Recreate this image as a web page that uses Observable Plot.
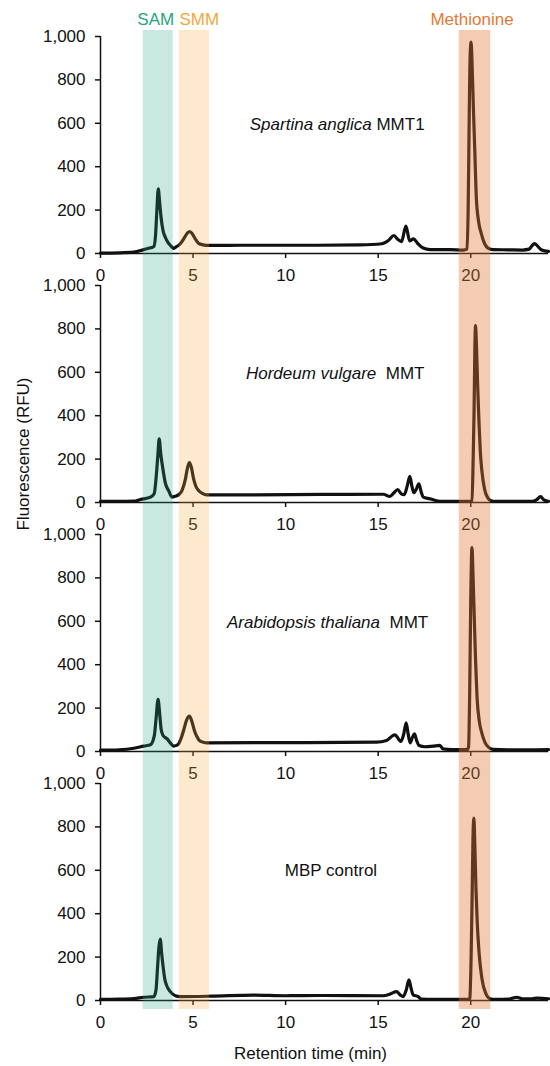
<!DOCTYPE html>
<html>
<head>
<meta charset="utf-8">
<script src="https://cdn.jsdelivr.net/npm/d3@7"></script>
<script src="https://cdn.jsdelivr.net/npm/@observablehq/plot@0.6"></script>
<style>
  html, body { margin: 0; padding: 0; background: #fff; }
</style>
</head>
<body>
<div id="chart"></div>
<script>
// ---------------- DATA ----------------
const panels = ["Spartina anglica MMT1", "Hordeum vulgare MMT", "Arabidopsis thaliana MMT", "MBP control"];
const titleItalic = ["Spartina anglica", "Hordeum vulgare", "Arabidopsis thaliana", ""];
const titleRoman = ["\u00a0MMT1", "\u00a0\u00a0MMT", "\u00a0\u00a0MMT", "MBP control"];

const xTicks = [0, 5, 10, 15, 20];
const yTicks = [0, 200, 400, 600, 800, 1000];

const bandNames = ["SAM", "SMM", "Methionine"];
const bandStart = [2.31, 4.25, 19.38];
const bandEnd = [3.93, 5.89, 21.08];

// [retention time (min), fluorescence (RFU)]
const traceSpartina = [
  [0, 2], [1.0, 3], [1.8, 6], [2.34, 18], [2.7, 26], [2.88, 32], [2.97, 80], [3.04, 190], [3.12, 298],
  [3.2, 230], [3.28, 160], [3.38, 105], [3.5, 75], [3.65, 50], [3.8, 35], [3.93, 24], [4.08, 30],
  [4.31, 45], [4.55, 75], [4.7, 95], [4.82, 101], [4.95, 92], [5.1, 70], [5.3, 47], [5.55, 40], [5.8, 37],
  [8.0, 38], [11.0, 38], [14.0, 40], [15.2, 45], [15.55, 60], [15.85, 83], [16.06, 65], [16.26, 55],
  [16.5, 126], [16.7, 58], [16.9, 67], [17.15, 45], [17.43, 25], [17.8, 18], [18.9, 18], [19.6, 16],
  [19.8, 20], [19.86, 200], [19.92, 650], [19.97, 920], [20.02, 974], [20.08, 850], [20.15, 650],
  [20.22, 470], [20.3, 260], [20.42, 150], [20.57, 92], [20.75, 45], [20.95, 24], [21.2, 18],
  [22.0, 17], [22.8, 16], [23.15, 20], [23.3, 35], [23.45, 46], [23.6, 35], [23.8, 18], [24.0, 12], [24.2, 10]
];
const traceHordeum = [
  [0, 5], [1.0, 5], [1.8, 6], [2.16, 14], [2.7, 25], [2.9, 40], [3.0, 110], [3.1, 220], [3.17, 293],
  [3.26, 220], [3.38, 150], [3.5, 90], [3.68, 55], [3.86, 25], [4.04, 29], [4.25, 38], [4.4, 55],
  [4.58, 105], [4.7, 160], [4.8, 184], [4.9, 165], [5.03, 109], [5.15, 75], [5.3, 55], [5.5, 42],
  [5.75, 35], [8.0, 35], [12.0, 37], [15.27, 38], [15.63, 28], [15.85, 45], [16.05, 60], [16.25, 40],
  [16.41, 36], [16.58, 80], [16.71, 120], [16.82, 75], [16.93, 45], [17.05, 60], [17.2, 86], [17.32, 50],
  [17.43, 25], [17.79, 17], [18.15, 8], [18.5, 5], [19.9, 5], [20.07, 8], [20.13, 200], [20.18, 420],
  [20.22, 700], [20.26, 815], [20.31, 720], [20.38, 520], [20.45, 360], [20.52, 230], [20.6, 147],
  [20.75, 60], [20.93, 20], [21.1, 8], [21.3, 5], [23.3, 5], [23.55, 12], [23.77, 27], [23.95, 12], [24.2, 5]
];
const traceArabidopsis = [
  [0, 6], [1.0, 8], [1.8, 15], [2.34, 25], [2.7, 31], [2.91, 74], [3.0, 150], [3.11, 240], [3.2, 170],
  [3.28, 100], [3.38, 74], [3.6, 58], [3.77, 40], [3.95, 25], [4.1, 28], [4.22, 35], [4.35, 60],
  [4.49, 97], [4.65, 145], [4.8, 163], [4.93, 140], [5.07, 97], [5.2, 70], [5.34, 51], [5.55, 43],
  [5.75, 40], [9.9, 41], [14.9, 43], [15.45, 51], [15.9, 77], [16.23, 46], [16.38, 80], [16.51, 132],
  [16.62, 80], [16.73, 40], [16.85, 65], [16.96, 81], [17.08, 50], [17.21, 28], [17.52, 22], [17.97, 25],
  [18.33, 28], [18.5, 12], [19.0, 9], [19.8, 9], [19.88, 20], [19.94, 250], [20.0, 700], [20.04, 900],
  [20.07, 940], [20.12, 820], [20.19, 620], [20.26, 420], [20.34, 250], [20.46, 140], [20.6, 85],
  [20.78, 40], [20.98, 18], [21.2, 10], [22.0, 8], [23.0, 8], [24.2, 9]
];
const traceMBP = [
  [0, 5], [1.0, 6], [1.8, 9], [2.34, 15], [2.88, 18], [3.0, 50], [3.08, 150], [3.16, 250], [3.23, 283],
  [3.3, 220], [3.38, 157], [3.47, 100], [3.56, 72], [3.77, 41], [4.04, 22], [4.31, 18], [6.0, 20],
  [8.27, 25], [10.0, 22], [12.0, 23], [15.27, 22], [15.65, 30], [15.99, 41], [16.2, 25], [16.35, 18],
  [16.52, 50], [16.66, 95], [16.78, 55], [16.89, 26], [17.16, 18], [17.34, 6], [18.0, 5], [19.9, 5],
  [19.95, 10], [20.02, 200], [20.07, 450], [20.12, 750], [20.17, 840], [20.22, 720], [20.28, 520],
  [20.35, 360], [20.45, 220], [20.6, 103], [20.8, 35], [21.05, 8], [21.3, 5], [22.1, 7], [22.48, 15],
  [22.8, 8], [23.3, 8], [23.6, 11], [24.2, 8]
];

// ---------------- STYLE / LAYOUT ----------------
const W = 550, H = 1066;
const M = {top: 36, right: 2, bottom: 66, left: 100};
const panelPx = 217, stepPx = 249;
const pxPerUnit = panelPx / 1000;
const bandColor = {SAM: "#1fa67e", SMM: "#f2a93b", Methionine: "#e27a36"};
const bandOpacity = {SAM: 0.25, SMM: 0.25, Methionine: 0.38};
const labelDx = {SAM: -2.5, SMM: 5, Methionine: -3};
// where the italic part of each panel title ends (min)
const titleSplit = {"Spartina anglica MMT1": 14.65, "Hordeum vulgare MMT": 14.9, "Arabidopsis thaliana MMT": 15.1};
const FONT = "'Liberation Sans', Arial, sans-serif";
const FS = 17;

// bands are drawn once from the bottom panel, spanning upward over all panels
const bandTopUnits = (H - M.bottom - 30) / pxPerUnit;
const bandBottomUnits = -9 / pxPerUnit;

// ---------------- BUILD ----------------
const traces = [traceSpartina, traceHordeum, traceArabidopsis, traceMBP];
const lineData = traces.flatMap((tr, i) => tr.map(([t, v]) => ({panel: panels[i], t, v})));
const bands = bandNames.map((name, i) => ({name, x1: bandStart[i], x2: bandEnd[i]}));
const titleData = panels.map((p, i) => ({panel: p, italic: titleItalic[i], roman: titleRoman[i]}));

const marks = [
  Plot.line(lineData, {
    x: "t", y: "v", z: "panel", fy: "panel", curve: "monotone-x",
    stroke: "#111", strokeWidth: 3.2, strokeLinejoin: "round", strokeLinecap: "round"
  }),
  Plot.ruleY([0], {stroke: "#111", strokeWidth: 1.5}),
  Plot.ruleX([0], {y1: 0, y2: 1000, stroke: "#111", strokeWidth: 1.5}),
  Plot.axisX({
    ticks: xTicks, tickFormat: d => String(d), tickSize: 5, tickPadding: 10,
    label: null, facetAnchor: null, fontSize: FS, strokeWidth: 1.5
  }),
  Plot.axisY({
    ticks: yTicks, tickFormat: d3.format(","), tickSize: 5, tickPadding: 10,
    label: null, facetAnchor: null, fontSize: FS, strokeWidth: 1.5
  }),
  // panel titles
  Plot.text(titleData.filter(d => d.italic), {
    x: d => titleSplit[d.panel], y: 596, fy: "panel", text: "italic", textAnchor: "end",
    fontStyle: "italic", fontSize: FS, fill: "#111"
  }),
  Plot.text(titleData.filter(d => d.italic), {
    x: d => titleSplit[d.panel], y: 596, fy: "panel", text: "roman", textAnchor: "start",
    fontSize: FS, fill: "#111"
  }),
  Plot.text(titleData.filter(d => !d.italic), {
    x: 12.45, y: 598, fy: "panel", text: "roman", textAnchor: "middle",
    fontSize: FS, fill: "#111"
  }),
  // shaded bands (semi-transparent, over the traces)
  ...bands.map(b => Plot.rect([{...b, panel: panels[3]}], {
    x1: "x1", x2: "x2", y1: bandBottomUnits, y2: bandTopUnits, fy: "panel",
    fill: bandColor[b.name], fillOpacity: bandOpacity[b.name]
  })),
  // band labels
  ...bands.map(b => Plot.text([{...b, panel: panels[0]}], {
    x: d => (d.x1 + d.x2) / 2, y: 1000, fy: "panel", text: "name",
    dx: labelDx[b.name], dy: -12, lineAnchor: "bottom", textAnchor: "middle",
    fill: bandColor[b.name], fontSize: FS
  })),
  // axis titles
  Plot.text([{panel: panels[1]}], {
    fy: "panel", frameAnchor: "left", text: () => "Fluorescence (RFU)", rotate: -90,
    dx: -77, dy: 60, textAnchor: "middle", lineAnchor: "middle", fontSize: FS, fill: "#111"
  }),
  Plot.text([{panel: panels[3]}], {
    fy: "panel", frameAnchor: "bottom", text: () => "Retention time (min)",
    dx: -14, dy: 53, textAnchor: "middle", lineAnchor: "middle", fontSize: FS, fill: "#111"
  })
];

const chart = Plot.plot({
  width: W, height: H,
  marginTop: M.top, marginRight: M.right, marginBottom: M.bottom, marginLeft: M.left,
  style: {fontFamily: FONT, fontSize: FS + "px", color: "#111", background: "#fff", overflow: "visible"},
  x: {domain: [0, 24.2]},
  y: {domain: [0, 1000]},
  fy: {domain: panels, axis: null, paddingInner: (stepPx - panelPx) / stepPx, paddingOuter: 0, round: false},
  marks
});
document.getElementById("chart").appendChild(chart);
</script>
</body>
</html>
